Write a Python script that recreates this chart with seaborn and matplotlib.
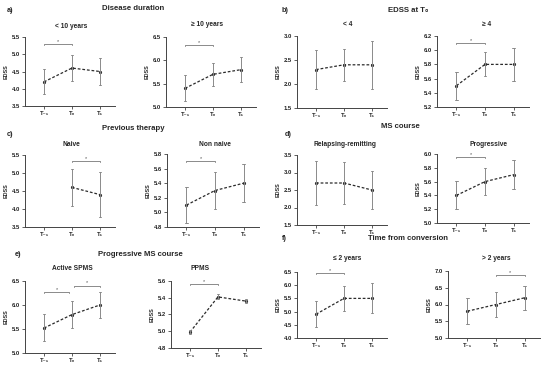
import numpy as np
import pandas as pd
import matplotlib
matplotlib.use("Agg")
import matplotlib.pyplot as plt
import seaborn as sns

nan = np.nan
times = ["T₋₁", "T₀", "T₁"]

# ---- data: mean, lower and upper error bar per time point ----
a1_mean = [4.2, 4.6, 4.5];   a1_lo = [3.85, 4.23, 4.12]; a1_hi = [4.58, 4.98, 4.88]
a2_mean = [5.4, 5.7, 5.8];   a2_lo = [5.12, 5.44, 5.53]; a2_hi = [5.68, 5.95, 6.07]
b1_mean = [2.3, 2.4, 2.4];   b1_lo = [1.90, 2.07, 1.90]; b1_hi = [2.70, 2.73, 2.90]
b2_mean = [5.5, 5.8, 5.8];   b2_lo = [5.30, 5.63, 5.57]; b2_hi = [5.70, 5.97, 6.03]
c1_mean = [nan, 4.6, 4.4];   c1_lo = [nan, 4.08, 3.78];  c1_hi = [nan, 5.12, 5.02]
c2_mean = [5.1, 5.3, 5.4];   c2_lo = [4.85, 5.05, 5.14]; c2_hi = [5.35, 5.56, 5.66]
d1_mean = [2.7, 2.7, 2.5];   d1_lo = [2.08, 2.10, 1.95]; d1_hi = [3.32, 3.30, 3.05]
d2_mean = [5.4, 5.6, 5.7];   d2_lo = [5.20, 5.40, 5.49]; d2_hi = [5.61, 5.80, 5.91]
e1_mean = [5.52, 5.8, 6.0];  e1_lo = [5.24, 5.52, 5.72]; e1_hi = [5.82, 6.09, 6.28]
e2_mean = [4.99, 5.41, 5.36]; e2_lo = [4.97, 5.38, 5.34]; e2_hi = [5.01, 5.44, 5.38]
f1_mean = [4.9, 5.5, 5.5];   f1_lo = [4.40, 5.02, 4.93]; f1_hi = [5.42, 5.98, 6.07]
f2_mean = [5.8, 6.0, 6.2];   f2_lo = [5.42, 5.62, 5.85]; f2_hi = [6.18, 6.38, 6.55]

subtitles = ["< 10 years", "≥ 10 years", "< 4", "≥ 4", "Naive", "Non naive",
             "Relapsing-remitting", "Progressive", "Active SPMS", "PPMS",
             "≤ 2 years", "> 2 years"]
y_ranges = [(3.5, 5.5, 0.5), (5.0, 6.5, 0.5), (1.5, 3.0, 0.5), (5.2, 6.2, 0.2),
            (3.5, 5.5, 0.5), (4.8, 5.8, 0.2), (1.5, 3.5, 0.5), (5.0, 6.0, 0.2),
            (5.0, 6.5, 0.5), (4.8, 5.6, 0.2), (4.0, 6.5, 0.5), (5.0, 7.0, 0.5)]
# significance brackets: (from, to, level)
brackets = [[(0, 1, 5.30)], [(0, 1, 6.33)], [], [(0, 1, 6.10)],
            [(1, 2, 5.33)], [(0, 1, 5.70)], [], [(0, 1, 5.95)],
            [(0, 0.9, 6.27), (1.08, 2, 6.40)], [(0, 1, 5.56)],
            [(0, 1, 6.45)], [(1, 2, 6.88)]]
section_titles = ["Disease duration", "EDSS at T₀", "Previous therapy", "MS course",
                  "Progressive MS course", "Time from conversion"]
section_letters = ["a)", "b)", "c)", "d)", "e)", "f)"]

panels = [(a1_mean, a1_lo, a1_hi), (a2_mean, a2_lo, a2_hi),
          (b1_mean, b1_lo, b1_hi), (b2_mean, b2_lo, b2_hi),
          (c1_mean, c1_lo, c1_hi), (c2_mean, c2_lo, c2_hi),
          (d1_mean, d1_lo, d1_hi), (d2_mean, d2_lo, d2_hi),
          (e1_mean, e1_lo, e1_hi), (e2_mean, e2_lo, e2_hi),
          (f1_mean, f1_lo, f1_hi), (f2_mean, f2_lo, f2_hi)]

# ---- layout (pixels): left, top, width, bottom ----
W, H = 550, 367
boxes = [(25, 37, 90, 106), (166, 37, 90, 107), (297, 36, 90, 108), (437, 36, 92, 107),
         (25, 155, 90, 227), (167, 154, 92, 227), (297, 155, 90, 225), (437, 154, 92, 223),
         (25, 281, 90, 353), (171, 281, 90, 348), (297, 272, 90, 338), (448, 271, 92, 338)]
sub_pos = [(71, 27), (207, 25), (348, 25), (487, 25), (71, 144), (215, 144),
           (345, 145), (488, 145), (72, 269), (200, 269), (347, 259), (496, 259)]
sec_pos = [(133, 9), (408, 10), (133, 129), (400, 127), (140, 254), (408, 238)]
let_pos = [(7, 10), (282, 10), (7, 135), (285, 135), (15, 255), (282, 238)]

sns.set_theme(style="ticks")
plt.rcParams["font.family"] = ["Liberation Sans", "DejaVu Sans"]

fig = plt.figure(figsize=(W / 100, H / 100), dpi=100)
fig.patch.set_facecolor("white")

spine_c = "#444444"
for i, ((m, lo, hi), (l, t, w, b)) in enumerate(zip(panels, boxes)):
    ax = fig.add_axes([l / W, 1 - b / H, w / W, (b - t) / H])
    rows = []
    for k, tname in enumerate(times):
        for v in (lo[k], m[k], hi[k]):
            if not np.isnan(v):
                rows.append({"time": tname, "EDSS": v})
    df = pd.DataFrame(rows)
    sns.pointplot(data=df, x="time", y="EDSS", order=times, ax=ax,
                  estimator="median", errorbar=("pi", 100),
                  color="#2b2b2b", linestyles=(0, (2.2, 1.5)), markers="o",
                  markersize=1.6, linewidth=0.9, capsize=0.08,
                  err_kws={"color": "#8a8a8a", "linewidth": 0.7})
    y0, y1, st = y_ranges[i]
    ax.set_ylim(y0, y1)
    ax.set_yticks(np.round(np.arange(y0, y1 + st / 2, st), 2))
    ax.yaxis.set_major_formatter(matplotlib.ticker.FormatStrFormatter("%.1f"))
    ax.set_xlim(-0.68, 2.54)
    ax.set_xlabel("")
    ax.set_ylabel("EDSS", fontsize=3.9, fontweight="bold", labelpad=2)
    for s in ("top", "right"):
        ax.spines[s].set_visible(False)
    for s in ("left", "bottom"):
        ax.spines[s].set_color(spine_c)
        ax.spines[s].set_linewidth(0.7)
    ax.tick_params(axis="both", length=2, width=0.6, color=spine_c,
                   labelsize=4.2, pad=1.5, labelcolor="#222222")
    for lab in ax.get_xticklabels() + ax.get_yticklabels():
        lab.set_fontweight("bold")
    d = (y1 - y0) * 0.015
    for (x0, x1, yb) in brackets[i]:
        ax.plot([x0, x0, x1, x1], [yb - d, yb, yb, yb - d], color="#8a8a8a",
                lw=0.7, clip_on=False)
        ax.text((x0 + x1) / 2, yb + d * 0.3, "*", ha="center", va="bottom",
                fontsize=4, color="#555555")
    fig.text(sub_pos[i][0] / W, 1 - sub_pos[i][1] / H, subtitles[i],
             ha="center", va="center", fontsize=4.8, fontweight="bold")

for (x, y), s in zip(sec_pos, section_titles):
    fig.text(x / W, 1 - y / H, s, ha="center", va="center", fontsize=5.6,
             fontweight="bold")
for (x, y), s in zip(let_pos, section_letters):
    fig.text(x / W, 1 - y / H, s, ha="left", va="center", fontsize=5.2,
             fontweight="bold")

fig.savefig("out.png", dpi=100)
